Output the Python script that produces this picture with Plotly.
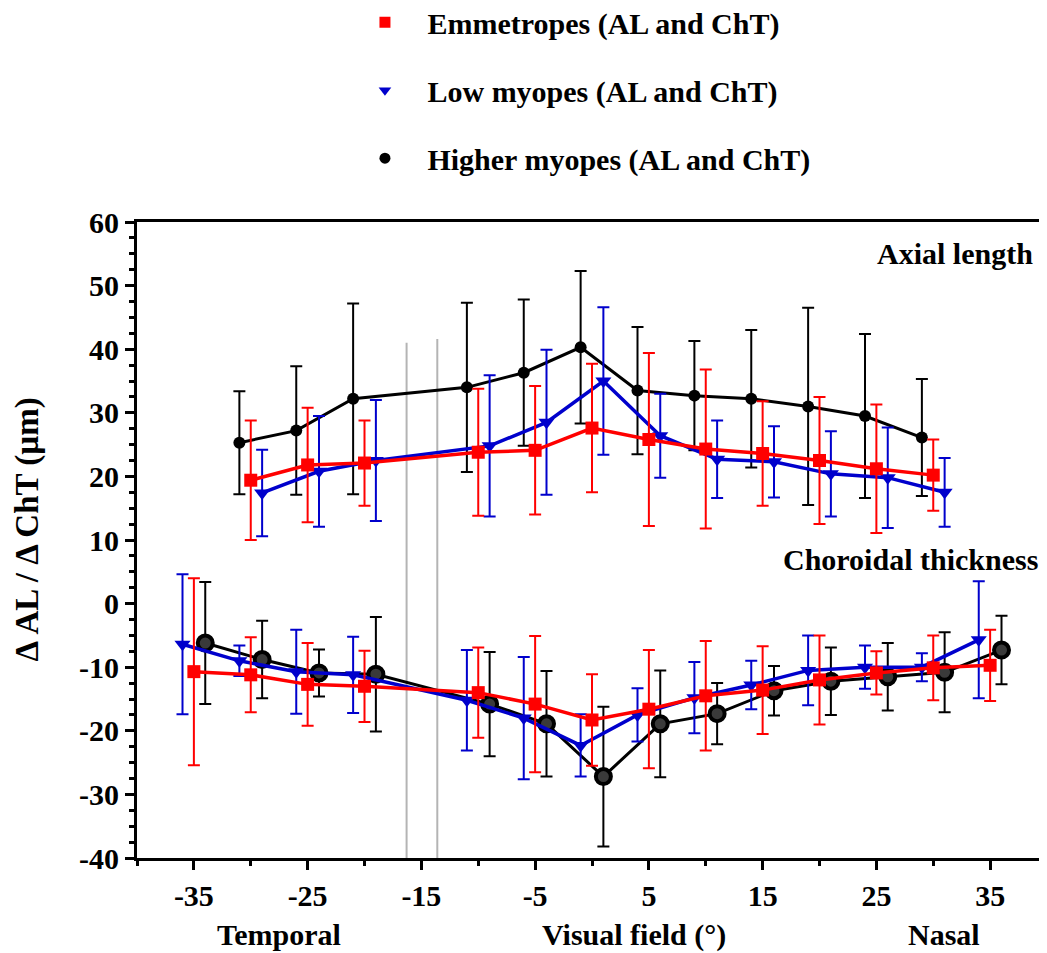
import plotly.graph_objects as go

# ---------------- data ----------------
# Axial length (AL)
al_x_emm = [-30, -25, -20, -10, -5, 0, 5, 10, 15, 20, 25, 30]
al_emm = [19.4, 21.8, 22.1, 23.8, 24.1, 27.6, 25.8, 24.3, 23.6, 22.5, 21.2, 20.2]
al_emm_err = [9.4, 9.0, 6.7, 10.0, 10.1, 10.1, 13.6, 12.5, 8.2, 10.0, 10.1, 5.6]

al_x_low = [-29, -24, -19, -9, -4, 1, 6, 11, 16, 21, 26, 31]
al_low = [17.4, 20.8, 22.5, 24.8, 28.5, 35.0, 26.4, 22.7, 22.3, 20.4, 19.8, 17.5]
al_low_err = [6.8, 8.7, 9.5, 11.1, 11.4, 11.6, 6.6, 6.1, 5.6, 6.7, 7.9, 5.4]

al_x_high = [-31, -26, -21, -11, -6, -1, 4, 9, 14, 19, 24, 29]
al_high = [25.3, 27.2, 32.2, 34.0, 36.3, 40.3, 33.5, 32.7, 32.2, 31.0, 29.5, 26.1]
al_high_err = [8.1, 10.1, 15.0, 13.3, 11.5, 12.0, 10.0, 8.6, 10.8, 15.5, 12.9, 9.2]

# Choroidal thickness (ChT)
cht_x_emm = [-35, -30, -25, -20, -10, -5, 0, 5, 10, 15, 20, 25, 30, 35]
cht_emm = [-10.7, -11.2, -12.7, -13.0, -14.0, -15.8, -18.3, -16.6, -14.5, -13.6, -12.0, -10.9, -10.1, -9.7]
cht_emm_err = [14.7, 5.9, 6.5, 5.6, 7.1, 10.7, 7.2, 9.3, 8.6, 6.9, 7.0, 3.4, 5.1, 5.6]

cht_x_low = [-36, -31, -26, -21, -11, -6, -1, 4, 9, 14, 19, 24, 29, 34]
cht_low = [-6.4, -9.0, -10.7, -11.2, -15.2, -18.0, -22.3, -17.5, -14.8, -12.8, -10.5, -10.0, -10.0, -5.7]
cht_low_err = [11.0, 2.4, 6.6, 6.0, 7.9, 9.6, 4.9, 4.2, 5.6, 3.8, 5.5, 3.4, 2.2, 9.2]

cht_x_high = [-34, -29, -24, -19, -9, -4, 1, 6, 11, 16, 21, 26, 31, 36]
cht_high = [-6.2, -8.8, -10.9, -11.1, -15.8, -18.9, -27.2, -18.9, -17.3, -13.7, -12.2, -11.5, -10.8, -7.3]
cht_high_err = [9.6, 6.1, 3.7, 9.0, 8.2, 8.3, 11.0, 8.4, 4.8, 3.9, 5.3, 5.3, 6.3, 5.4]

# reference lines (grey)
ref_x = [-16.3, -13.6]
ref_top = [41.0, 41.6]
ref_bottom = -40

x_ticks = [-35, -25, -15, -5, 5, 15, 25, 35]
y_ticks = [60, 50, 40, 30, 20, 10, 0, -10, -20, -30, -40]

names = ["Emmetropes (AL and ChT)", "Low myopes (AL and ChT)", "Higher myopes (AL and ChT)"]

RED = "#FF0000"
BLUE = "#0000CC"
BLACK = "#000000"
FONT = "Liberation Serif"

fig = go.Figure()

# grey vertical lines
for xv, yt in zip(ref_x, ref_top):
    fig.add_trace(go.Scatter(x=[xv, xv], y=[ref_bottom, yt], mode="lines",
                             line=dict(color="#b4b4b4", width=2),
                             showlegend=False, hoverinfo="skip"))

def add_series(x, y, err, color, symbol, msize, lwidth, mline=None, mcolor=None):
    fig.add_trace(go.Scatter(
        x=x, y=y, mode="lines+markers",
        line=dict(color=color, width=lwidth),
        marker=dict(symbol=symbol, size=msize, color=mcolor or color,
                    line=mline or dict(width=0)),
        error_y=dict(type="data", array=err, visible=True, color=color,
                     thickness=2, width=6),
        showlegend=False))

# draw order: black, blue, red on top
add_series(al_x_high, al_high, al_high_err, BLACK, "circle", 12, 3)
add_series(cht_x_high, cht_high, cht_high_err, BLACK, "circle", 15, 3,
           mline=dict(color=BLACK, width=4), mcolor="#3a3a3a")
add_series(al_x_low, al_low, al_low_err, BLUE, "triangle-down", 14, 3.5)
add_series(cht_x_low, cht_low, cht_low_err, BLUE, "triangle-down", 14, 3.5)
add_series(al_x_emm, al_emm, al_emm_err, RED, "square", 13, 3.5)
add_series(cht_x_emm, cht_emm, cht_emm_err, RED, "square", 13, 3.5)

# legend entries (markers only)
for nm, col, sym, rank in zip(names, [RED, BLUE, BLACK],
                              ["square", "triangle-down", "circle"], [1, 2, 3]):
    fig.add_trace(go.Scatter(x=[None], y=[None], mode="markers",
                             name="\u00a0\u00a0\u00a0" + nm,
                             marker=dict(symbol=sym, size=11, color=col),
                             legendgroup=nm, legendrank=rank))

tick_font = dict(family=FONT, size=30, color="black", weight="bold")

fig.update_layout(
    width=1039, height=945,
    margin=dict(l=129, r=0, t=214, b=95, autoexpand=False),
    plot_bgcolor="white", paper_bgcolor="white",
    showlegend=True,
    legend=dict(x=0.2505, y=1.355, xref="paper", yref="paper",
                xanchor="left", yanchor="top",
                font=dict(family=FONT, size=30, color="black", weight="bold"),
                tracegroupgap=26, bgcolor="rgba(0,0,0,0)"),
    xaxis=dict(range=[-40, 40], tickvals=x_ticks, ticktext=[str(v) for v in x_ticks],
               showline=True, linecolor="black", linewidth=3, mirror=True,
               ticks="outside", ticklen=9, tickwidth=3, tickcolor="black",
               minor=dict(dtick=5, tick0=-35, ticks="outside", ticklen=5,
                          tickwidth=3, tickcolor="black"),
               showgrid=False, zeroline=False, tickfont=tick_font),
    yaxis=dict(range=[-40, 60], tickvals=y_ticks, ticktext=[str(v) for v in y_ticks],
               showline=True, linecolor="black", linewidth=3, mirror=False,
               ticks="outside", ticklen=9, tickwidth=3, tickcolor="black",
               minor=dict(dtick=2.5, tick0=0, ticks="outside", ticklen=5,
                          tickwidth=3, tickcolor="black"),
               showgrid=False, zeroline=False, tickfont=tick_font),
)

# y-axis title
fig.add_annotation(x=-0.12, y=0.516, xref="paper", yref="paper",
                   text="\u0394 AL / \u0394 ChT (\u00b5m)", textangle=-90,
                   showarrow=False, xanchor="center", yanchor="middle",
                   font=dict(family=FONT, size=33, color="black", weight="bold"))

ann_font = dict(family=FONT, size=30, color="black", weight="bold")
fig.add_annotation(x=1.0, y=55, xref="paper", yref="y", text="Axial length",
                   showarrow=False, xanchor="right", yanchor="middle", font=ann_font,
                   xshift=-12)
fig.add_annotation(x=1.0, y=7, xref="paper", yref="y", text="Choroidal thickness",
                   showarrow=False, xanchor="right", yanchor="middle", font=ann_font,
                   xshift=-7)
for txt, xp in zip(["Temporal", "Visual field (\u00b0)", "Nasal"], [0.156, 0.546, 0.887]):
    fig.add_annotation(x=xp, y=-0.121, xref="paper", yref="paper", text=txt,
                       showarrow=False, xanchor="center", yanchor="middle", font=ann_font)

fig.write_html("out.html")
